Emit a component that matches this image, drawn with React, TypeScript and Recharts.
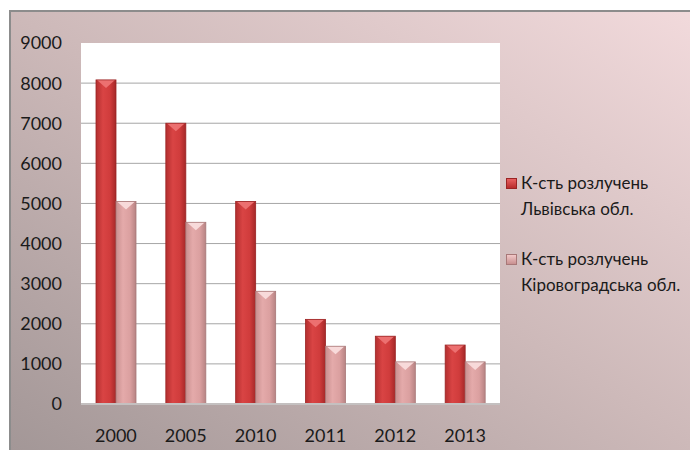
import React from "react";
import { BarChart, Bar, XAxis, YAxis, CartesianGrid, Legend } from "recharts";

const years = ["2000", "2005", "2010", "2011", "2012", "2013"];
const lviv = [8080, 7000, 5050, 2110, 1690, 1470];
const kirov = [5050, 4530, 2810, 1440, 1050, 1050];
const seriesNames = ["К-сть розлучень Львівська обл.", "К-сть розлучень Кіровоградська обл."];
const legendLines = [
  ["К-сть розлучень", "Львівська обл."],
  ["К-сть розлучень", "Кіровоградська обл."],
];
const yTicks = [0, 1000, 2000, 3000, 4000, 5000, 6000, 7000, 8000, 9000];
const gridValues = [1000, 2000, 3000, 4000, 5000, 6000, 7000, 8000];

const data = years.map((y, i) => ({ year: y, lviv: lviv[i], kirov: kirov[i] }));

const FONT = "Lato, 'Open Sans', sans-serif";

const makeShape = (gradId: string, bevel: string, dark: string) => (props: any) => {
  const { x, y, width, height } = props;
  if (!height || height <= 0) return null;
  const b = Math.min(8, height / 2);
  return (
    <g>
      <rect x={x} y={y} width={width} height={height} fill={`url(#${gradId})`} />
      <polygon points={`${x + 1},${y} ${x + width - 1},${y} ${x + width / 2},${y + b}`} fill={bevel} />
      <rect x={x} y={y} width={width} height={height} fill="none" stroke={dark} strokeWidth={0.8} />
    </g>
  );
};

const LviShape = makeShape("gLviv", "#ec7070", "#9a2424");
const KirShape = makeShape("gKirov", "#f8dada", "#a87878");

const LegendContent = () => (
  <div style={{ fontFamily: FONT, fontSize: 17, color: "#1a1a1a", lineHeight: "26px", textAlign: "left" }}>
    {legendLines.map((lines, i) => (
      <div key={seriesNames[i]} style={{ position: "relative", paddingLeft: 15, marginBottom: 24 }}>
        <span
          style={{
            position: "absolute",
            left: 0,
            top: 8,
            width: 9,
            height: 9,
            background: i === 0 ? "linear-gradient(#e86060, #b82c2c)" : "linear-gradient(#f2c8c8, #c89090)",
            border: i === 0 ? "1px solid #9a2424" : "1px solid #a87878",
          }}
        />
        <div>{lines[0]}</div>
        <div>{lines[1]}</div>
      </div>
    ))}
  </div>
);

export default function App() {
  return (
    <div
      style={{
        marginLeft: 1,
        marginTop: 2,
        width: 687,
        height: 438,
        borderLeft: "2px solid #8c8c8c",
        borderTop: "2px solid #8c8c8c",
        background: "linear-gradient(to top right, #a39797 0%, #cdb9b9 50%, #f2dadc 100%)",
      }}
    >
      <BarChart
        width={687}
        height={438}
        data={data}
        margin={{ top: 31, right: 198, left: 0, bottom: 16 }}
        barGap={0}
        barSize={20}
      >
        <defs>
          <linearGradient id="gLviv" x1="0" y1="0" x2="1" y2="0">
            <stop offset="0%" stopColor="#b32f2f" />
            <stop offset="35%" stopColor="#d94444" />
            <stop offset="70%" stopColor="#d03c3c" />
            <stop offset="100%" stopColor="#a52828" />
          </linearGradient>
          <linearGradient id="gKirov" x1="0" y1="0" x2="1" y2="0">
            <stop offset="0%" stopColor="#c99090" />
            <stop offset="35%" stopColor="#e4aaaa" />
            <stop offset="70%" stopColor="#dba0a0" />
            <stop offset="100%" stopColor="#b78383" />
          </linearGradient>
        </defs>
        <CartesianGrid
          vertical={false}
          fill="#ffffff"
          stroke="#a6a6a6"
          horizontalValues={gridValues}
        />
        <XAxis
          dataKey="year"
          height={30}
          interval={0}
          tickLine={false}
          tickSize={0}
          tickMargin={25}
          axisLine={{ stroke: "#c4c0c0", strokeWidth: 2 }}
          tick={{ fill: "#1a1a1a", fontSize: 18, fontFamily: FONT }}
        />
        <YAxis
          width={70}
          domain={[0, 9000]}
          ticks={yTicks}
          interval={0}
          tickLine={false}
          axisLine={false}
          tickSize={0}
          tickMargin={19}
          tick={{ fill: "#1a1a1a", fontSize: 18, fontFamily: FONT }}
        />
        <Legend
          layout="horizontal"
          align="center"
          verticalAlign="middle"
          wrapperStyle={{ left: 495, top: 158, width: 190 }}
          content={<LegendContent />}
        />
        <Bar dataKey="lviv" name={seriesNames[0]} shape={LviShape} isAnimationActive={false} />
        <Bar dataKey="kirov" name={seriesNames[1]} shape={KirShape} isAnimationActive={false} />
      </BarChart>
    </div>
  );
}
